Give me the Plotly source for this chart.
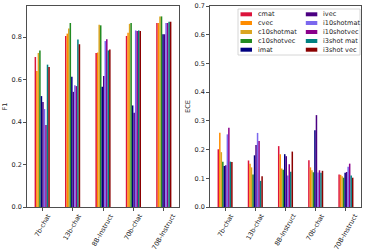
import plotly.graph_objects as go

categories = ["7b-chat", "13b-chat", "8B-Instruct", "70b-chat", "70B-Instruct"]
series_names = ["cmat", "cvec", "c10shotmat", "c10shotvec", "imat",
                "ivec", "i10shotmat", "i10shotvec", "i3shot mat", "i3shot vec"]
colors = ["#DC143C", "#FF8C00", "#DAA520", "#228B22", "#000080",
          "#4B0082", "#7B68EE", "#8B008B", "#008080", "#8B0000"]

f1_cmat = [0.706, 0.805, 0.725, 0.805, 0.866]
f1_cvec = [0.640, 0.816, 0.727, 0.820, 0.866]
f1_c10shotmat = [0.725, 0.840, 0.858, 0.862, 0.897]
f1_c10shotvec = [0.737, 0.866, 0.855, 0.866, 0.897]
f1_imat = [0.522, 0.613, 0.566, 0.478, 0.813]
f1_ivec = [0.494, 0.542, 0.616, 0.444, 0.813]
f1_i10shotmat = [0.461, 0.573, 0.781, 0.831, 0.866]
f1_i10shotvec = [0.386, 0.569, 0.789, 0.828, 0.866]
f1_i3shotmat = [0.670, 0.788, 0.737, 0.831, 0.872]
f1_i3shotvec = [0.659, 0.766, 0.741, 0.828, 0.872]

ece_cmat = [0.201, 0.162, 0.212, 0.163, 0.113]
ece_cvec = [0.259, 0.151, 0.184, 0.138, 0.112]
ece_c10shotmat = [0.191, 0.138, 0.134, 0.128, 0.107]
ece_c10shotvec = [0.158, 0.113, 0.130, 0.121, 0.102]
ece_imat = [0.143, 0.180, 0.184, 0.267, 0.119]
ece_ivec = [0.145, 0.216, 0.177, 0.320, 0.122]
ece_i10shotmat = [0.253, 0.258, 0.110, 0.120, 0.140]
ece_i10shotvec = [0.276, 0.230, 0.149, 0.128, 0.151]
ece_i3shotmat = [0.158, 0.091, 0.123, 0.119, 0.110]
ece_i3shotvec = [0.157, 0.107, 0.193, 0.126, 0.102]

f1_values = [f1_cmat, f1_cvec, f1_c10shotmat, f1_c10shotvec, f1_imat,
             f1_ivec, f1_i10shotmat, f1_i10shotvec, f1_i3shotmat, f1_i3shotvec]
ece_values = [ece_cmat, ece_cvec, ece_c10shotmat, ece_c10shotvec, ece_imat,
              ece_ivec, ece_i10shotmat, ece_i10shotvec, ece_i3shotmat, ece_i3shotvec]

f1_ticks = [0.0, 0.2, 0.4, 0.6, 0.8]
ece_ticks = [0.0, 0.1, 0.2, 0.3, 0.4, 0.5, 0.6, 0.7]

W, H = 366, 250
FONT = "DejaVu Sans"
FS = 6.5
TXT = "#222222"

fig = go.Figure()
for name, col, f1, ece in zip(series_names, colors, f1_values, ece_values):
    fig.add_trace(go.Bar(x=categories, y=f1, name=name, marker_color=col,
                         marker_line_width=0, xaxis="x", yaxis="y",
                         showlegend=False))
    fig.add_trace(go.Bar(x=categories, y=ece, name=name, marker_color=col,
                         marker_line_width=0, xaxis="x2", yaxis="y2",
                         showlegend=False))

def px_x(v):
    return v / W

def px_y(v):
    return 1 - v / H

axis_common = dict(showline=True, mirror=True, linecolor=TXT, linewidth=0.8,
                   ticks="outside", ticklen=3, tickwidth=0.8, tickcolor=TXT,
                   showgrid=False, zeroline=False, automargin=False,
                   tickfont=dict(family=FONT, size=FS, color=TXT))

fig.update_layout(
    width=W, height=H,
    margin=dict(l=0, r=0, t=0, b=0),
    paper_bgcolor="white", plot_bgcolor="white",
    barmode="group", bargap=0.5, bargroupgap=0.0,
    font=dict(family=FONT, size=FS, color=TXT),
    xaxis=dict(domain=[px_x(27), px_x(179)], anchor="y", range=[-0.5, 4.5],
               showticklabels=False, **axis_common),
    yaxis=dict(domain=[px_y(207), px_y(6)], anchor="x", range=[0, 0.946],
               tickvals=f1_ticks, tickformat=".1f",
               title=dict(text="F1", standoff=3,
                          font=dict(family=FONT, size=FS, color=TXT)),
               **axis_common),
    xaxis2=dict(domain=[px_x(210), px_x(361)], anchor="y2", range=[-0.5, 4.5],
                showticklabels=False, **axis_common),
    yaxis2=dict(domain=[px_y(207), px_y(6)], anchor="x2", range=[0, 0.7],
                tickvals=ece_ticks, tickformat=".1f",
                title=dict(text="ECE", standoff=3,
                           font=dict(family=FONT, size=FS, color=TXT)),
                **axis_common),
)

annotations = []
# rotated category labels, centered under each tick (as in the original)
for xref in ["x", "x2"]:
    for c in categories:
        annotations.append(dict(x=c, xref=xref, y=px_y(210), yref="paper",
                                text=c, textangle=-60, showarrow=False,
                                xanchor="center", yanchor="top",
                                font=dict(family=FONT, size=FS, color=TXT)))

# legend drawn in the right panel (two columns)
shapes = [dict(type="rect", xref="paper", yref="paper",
               x0=px_x(238), x1=px_x(360), y0=px_y(55), y1=px_y(9),
               line=dict(color="#cccccc", width=0.8),
               fillcolor="rgba(255,255,255,0.8)", layer="above")]
row_y = [14.3, 23.0, 32.0, 41.0, 49.7]
col_x = [240.5, 305.8]
for i, (name, col) in enumerate(zip(series_names, colors)):
    c, r = divmod(i, 5)
    yc = row_y[r]
    x0 = col_x[c]
    shapes.append(dict(type="rect", xref="paper", yref="paper",
                       x0=px_x(x0), x1=px_x(x0 + 11.5),
                       y0=px_y(yc + 2), y1=px_y(yc - 2),
                       line=dict(width=0), fillcolor=col, layer="above"))
    annotations.append(dict(x=px_x(x0 + 15.5), y=px_y(yc), xref="paper", yref="paper",
                            text=name, showarrow=False, xanchor="left",
                            yanchor="middle",
                            font=dict(family=FONT, size=FS, color=TXT)))

fig.update_layout(shapes=shapes, annotations=annotations)

fig.write_html("out.html",
               config={"displayModeBar": False, "staticPlot": True},
               post_script="document.body.style.margin='0';document.body.style.overflow='hidden';")
